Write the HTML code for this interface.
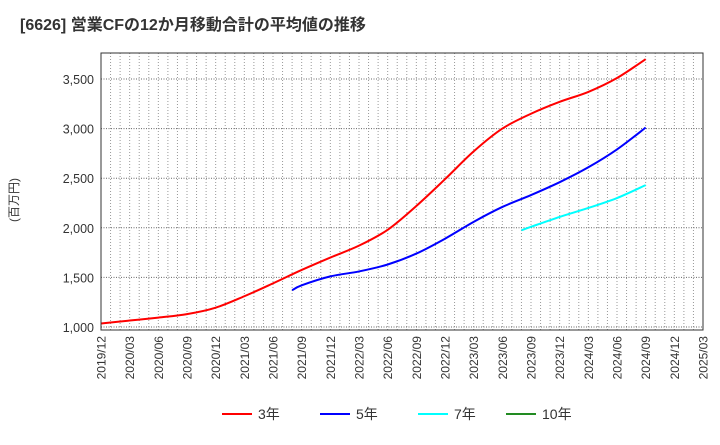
<!DOCTYPE html>
<html><head><meta charset="utf-8"><style>
body{margin:0;background:#fff;font-family:"Liberation Sans","Noto Sans CJK JP",sans-serif}
</style></head><body>
<svg id="c" width="720" height="440" xmlns="http://www.w3.org/2000/svg" style="font-family:'Liberation Sans','Noto Sans CJK JP',sans-serif">
<text x="20" y="30" font-size="16" font-weight="bold" fill="#333">[6626]  営業CFの12か月移動合計の平均値の推移</text>
<text x="18" y="200" font-size="12" fill="#333" transform="rotate(-90 18 200)" text-anchor="middle">(百万円)</text>
<g id="grid"></g><g id="series"></g><g id="axes"></g>
<g id="legend"></g>
</svg>
<script>
const tickLabels=["2019/12","2020/03","2020/06","2020/09","2020/12","2021/03","2021/06","2021/09","2021/12","2022/03","2022/06","2022/09","2022/12","2023/03","2023/06","2023/09","2023/12","2024/03","2024/06","2024/09","2024/12","2025/03"];
const yTicks=[1000,1500,2000,2500,3000,3500];
// month index from 2019/12
const redMonths=[0,3,6,9,12,15,18,21,24,27,30,33,36,39,42,45,48,51,54,57];
const redValues=[1035,1065,1095,1130,1195,1310,1440,1575,1700,1820,1980,2220,2490,2770,3000,3150,3270,3370,3510,3700];
const blueMonths=[20,21,24,27,30,33,36,39,42,45,48,51,54,57];
const blueValues=[1370,1420,1510,1560,1630,1740,1890,2060,2210,2330,2460,2610,2790,3010];
const cyanMonths=[44,45,48,51,54,57];
const cyanValues=[1975,2010,2110,2200,2300,2430];
const legendNames=["3年","5年","7年","10年"];
const legendColors=["#ff0000","#0000ff","#00ffff","#228b22"];
const L=101,R=703,T=53,B=330,NS="http://www.w3.org/2000/svg";
const x=m=>L+m*(R-L)/63;
const y=v=>327-(v-1000)*248/2500;
function mk(t,a,p){const e=document.createElementNS(NS,t);for(const k in a)e.setAttribute(k,a[k]);p.appendChild(e);return e;}
const grid=document.getElementById('grid'),axes=document.getElementById('axes'),ser=document.getElementById('series');
for(let m=1;m<63;m++){const g=mk('line',{x1:x(m),x2:x(m),y1:T,y2:B,stroke:'#999','stroke-dasharray':'1,2'},grid);

}
yTicks.forEach(v=>{const g=mk('line',{x1:L,x2:R,y1:y(v),y2:y(v),stroke:'#666','stroke-dasharray':'1,1.5'},grid);


const t=mk('text',{x:L-7,y:y(v)+5,'font-size':12.5,'text-anchor':'end',fill:'#333'},axes);t.textContent=v.toLocaleString('en-US');

});
tickLabels.forEach((s,i)=>{const xx=x(i*3);const t=mk('text',{x:0,y:0,'font-size':12,'text-anchor':'end',fill:'#333',transform:`translate(${xx+4.5},${B+6}) rotate(-90)`},axes);t.textContent=s;

});
const fr=mk('rect',{x:L,y:T,width:R-L,height:B-T,fill:'none',stroke:'#333','stroke-width':1},axes);


function path(ms,vs){const p=ms.map((m,i)=>[x(m),y(vs[i])]);let d=`M${p[0][0]},${p[0][1]}`;
for(let i=0;i<p.length-1;i++){const p0=p[Math.max(0,i-1)],p1=p[i],p2=p[i+1],p3=p[Math.min(p.length-1,i+2)];
d+=` C${p1[0]+(p2[0]-p0[0])/6},${p1[1]+(p2[1]-p0[1])/6} ${p2[0]-(p3[0]-p1[0])/6},${p2[1]-(p3[1]-p1[1])/6} ${p2[0]},${p2[1]}`;}return d;}
[[redMonths,redValues,'#ff0000','series-3y'],[blueMonths,blueValues,'#0000ff','series-5y'],[cyanMonths,cyanValues,'#00ffff','series-7y']].forEach(s=>{
const e=mk('path',{d:path(s[0],s[1]),fill:'none',stroke:s[2],'stroke-width':2},ser);

});
const lg=document.getElementById('legend');const lx=[222,320,418,506];
legendNames.forEach((n,i)=>{const l=mk('line',{x1:lx[i],x2:lx[i]+30,y1:414,y2:414,stroke:legendColors[i],'stroke-width':2},lg);


const t=mk('text',{x:lx[i]+36,y:419,'font-size':14,fill:'#333'},lg);t.textContent=n;

});
</script>
</body></html>
